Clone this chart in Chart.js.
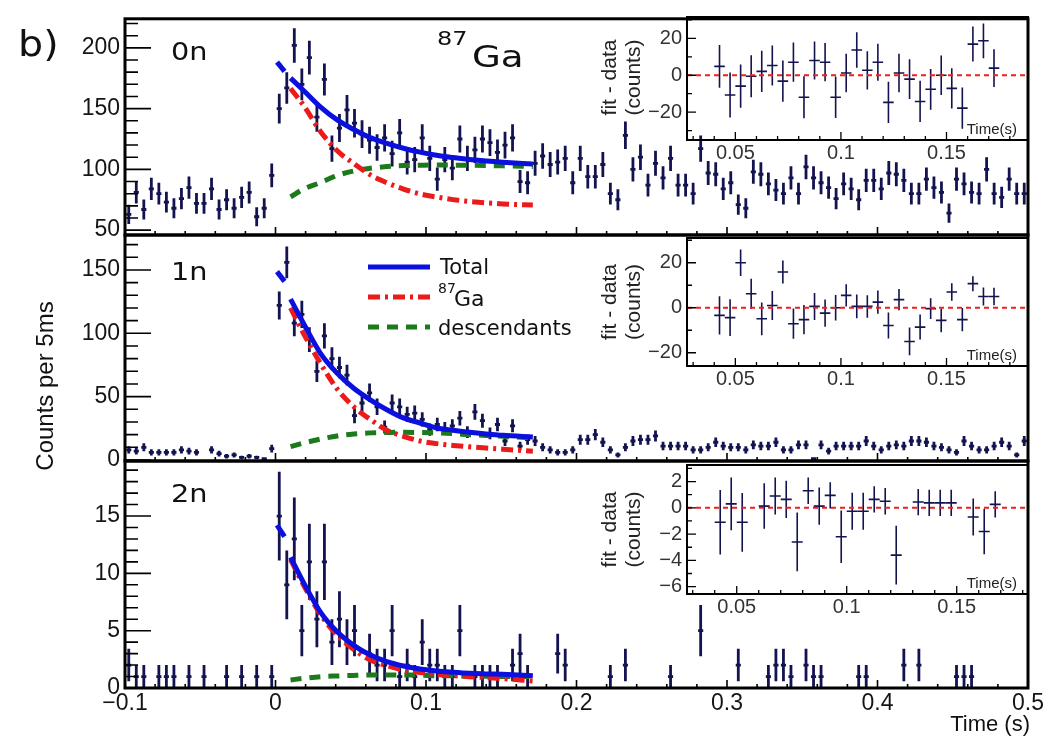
<!DOCTYPE html>
<html>
<head>
<meta charset="utf-8">
<script src="https://cdn.jsdelivr.net/npm/chart.js@4.4.1/dist/chart.umd.min.js"></script>
<style>
  html, body { margin: 0; padding: 0; background: #fff; }
  #wrap { position: relative; width: 1049px; height: 738px; overflow: hidden; background: #fff; }
  #wrap canvas { position: absolute; left: 0; top: 0; }
</style>
</head>
<body>
<div id="wrap">
  <canvas id="p0" width="1049" height="738"></canvas>
  <canvas id="p1" width="1049" height="738"></canvas>
  <canvas id="p2" width="1049" height="738"></canvas>
  <canvas id="r0" width="1049" height="738"></canvas>
  <canvas id="r1" width="1049" height="738"></canvas>
  <canvas id="r2" width="1049" height="738"></canvas>
</div>
<script>
// Histogram binning: 5 ms bins from -0.1 s to 0.5 s
const binStart = -0.1;
const binWidth = 0.005;

// Counts per 5 ms bin, 0n gate
const counts0n = [
  63, 81, 67, 84, 80, 73, 68, 76, 85, 72,
  72, 84, 67, 75, 68, 77, 81, 61, 68, 95,
  150, 167, 202, 170, 192, 143, 174, 117, 134, 149,
  138, 129, 124, 118, 126, 113, 130, 106, 108, 126,
  109, 92, 108, 101, 125, 109, 116, 125, 122, 114,
  120, 126, 90, 89, 105, 111, 104, 106, 109, 89,
  109, 94, 94, 104, 80, 75, 128, 100, 110, 87,
  105, 93, 109, 87, 87, 80, 117, 97, 96, 84,
  89, 71, 68, 98, 96, 88, 83, 80, 93, 80,
  102, 93, 89, 85, 76, 88, 84, 75, 91, 91,
  84, 97, 96, 91, 80, 80, 92, 85, 81, 64,
  92, 88, 81, 80, 100, 80, 77, 92, 80, 80
];

// Counts per 5 ms bin, 1n gate
const counts1n = [
  8, 7, 10, 6, 6, 6, 6, 8, 7, 6,
  0, 8, 5, 3, 4, 2, 3, 2, 1, 9,
  122, 156, 108, 115, 95, 70, 98, 80, 73, 67,
  35, 45, 53, 42, 26, 45, 42, 36, 37, 32,
  24, 28, 25, 27, 33, 22, 38, 31, 21, 28,
  15, 27, 11, 16, 15, 10, 8, 6, 6, 8,
  16, 16, 20, 14, 8, 4, 10, 15, 16, 16,
  19, 11, 11, 11, 11, 8, 8, 10, 14, 11,
  10, 10, 8, 12, 11, 11, 14, 8, 8, 12,
  12, 1, 12, 7, 11, 11, 11, 11, 15, 11,
  8, 11, 12, 11, 15, 15, 14, 11, 10, 8,
  6, 15, 11, 8, 8, 11, 14, 11, 4, 15
];

// Counts per 5 ms bin, 2n gate
const counts2n = [
  2, 1, 1, 0, 1, 1, 1, 0, 1, 0,
  1, 0, 0, 1, 0, 1, 0, 1, 0, 1,
  15, 9, 13, 5, 11, 6, 11, 4, 6, 4,
  5, 0, 3, 2, 2, 5, 1, 2, 1, 4,
  2, 2, 1, 1, 5, 0, 1, 1, 1, 1,
  0, 2, 3, 1, 0, 0, 0, 3, 2, 0,
  0, 0, 0, 0, 1, 0, 2, 0, 0, 0,
  0, 0, 1, 0, 0, 0, 5, 0, 0, 0,
  0, 2, 0, 0, 0, 1, 2, 2, 1, 0,
  2, 1, 1, 0, 0, 0, 0, 1, 1, 0,
  0, 0, 0, 2, 0, 2, 0, 0, 0, 0,
  1, 1, 1, 0, 0, 0, 0, 0, 0, 0
];

// Fit curves sampled over the fit window (s)
const fitTime = [0.010, 0.019, 0.030, 0.041, 0.052, 0.063, 0.074, 0.085, 0.096, 0.107, 0.118, 0.129, 0.140, 0.151, 0.171];
const total0n = [175.1, 164.5, 151.3, 140.7, 132.8, 126.1, 121.4, 117.4, 114.2, 111.6, 109.7, 108.1, 106.8, 105.8, 104.4];
const ga0n    = [166.5, 152.0, 131.0, 115.3, 104.8, 95.5, 89.0, 83.8, 79.8, 77.2, 75.1, 73.6, 72.4, 71.6, 70.6];
const desc0n  = [77.4, 84.0, 89.2, 95.0, 98.7, 101.0, 102.3, 103.1, 103.4, 103.6, 103.5, 103.4, 103.2, 102.9, 102.3];
const total1n = [127.0, 107.0, 84.0, 68.4, 56.6, 47.5, 39.7, 33.2, 29.2, 25.3, 23.5, 21.9, 20.6, 19.5, 18.2];
const ga1n    = [120.0, 99.0, 76.0, 56.0, 42.0, 32.0, 23.5, 18.7, 15.0, 12.9, 11.5, 10.4, 9.4, 8.5, 6.9];
const desc1n  = [10.5, 13.5, 16.5, 19.0, 20.5, 21.4, 21.7, 21.9, 21.7, 21.4, 20.8, 20.0, 19.4, 18.7, 17.4];
const total2n = [11.4, 9.1, 6.6, 4.9, 3.72, 2.87, 2.3, 1.92, 1.66, 1.48, 1.37, 1.28, 1.23, 1.19, 1.07];
const ga2n    = [11.2, 8.9, 6.4, 4.6, 3.35, 2.45, 1.95, 1.57, 1.35, 1.19, 1.08, 0.99, 0.90, 0.82, 0.61];
const desc2n  = [0.70, 0.85, 0.99, 1.05, 1.10, 1.13, 1.13, 1.13, 1.12, 1.07, 1.06, 1.05, 1.03, 1.01, 0.99];

// Total fit drawn before the fit window
const extTime = [0.001, 0.006];
const ext0n = [188.3, 180.6];
const ext1n = [148.7, 141.0];
const ext2n = [14.2, 13.2];

// Residuals (fit - data) inside the fit window
const resTime = [0.0425, 0.0475, 0.0525, 0.0575, 0.0625, 0.0675, 0.0725, 0.0775, 0.0825,
                 0.0875, 0.0925, 0.0975, 0.1025, 0.1075, 0.1125, 0.1175, 0.1225, 0.1275,
                 0.1325, 0.1375, 0.1425, 0.1475, 0.1525, 0.1575, 0.1625, 0.1675, 0.1725];
const res0n = [4.8, -10.7, -5.9, -0.5, 2.1, 5.3, -3.2, 7.1, -11.9, 8.0, 7.1, -11.9, 1.2, 13.7,
               2.7, 7.1, -14.7, 1.2, -2.1, -14.2, -7.6, 0.0, -7.1, -17.8, 16.9, 18.7, 3.9];
const res1n = [-3.4, -4.4, 20.0, 6.2, -4.9, 1.0, 15.9, -7.1, -5.3, 0.6, -2.4, 0.0, 5.5, 0.6,
               0.6, 2.5, -7.9, 3.6, -15.0, -8.6, -0.4, -5.6, 7.0, -5.3, 10.7, 5.0, 5.0];
const res2n = [-1.1, 0.3, -1.1, null, 0.13, 0.9, 0.64, -2.6, 1.3, 0.13, 0.95, -2.2, -0.26, -0.26,
               0.64, 0.5, -3.6, null, 0.44, 0.38, 0.38, 0.38, null, -0.7, -1.8, 0.26, null];

// Axis tick values
const timeTicksMain = [-0.1, 0, 0.1, 0.2, 0.3, 0.4, 0.5];
const timeTicksInset = [0.05, 0.1, 0.15];

const BLUE = '#0b10de';
const RED = '#ec1b1b';
const GREEN = '#1c7a1c';
const NAVY = '#13134f';
const DASH_GA = [12, 5, 3, 5];
const DASH_DESC = [11, 8];

const binCenter = i => binStart + binWidth * (i + 0.5);
const binOf = t => Math.floor((t - binStart) / binWidth);
const signed = s => s.replace('-', '\u2212');
const fmt = v => signed(String(Math.round(v * 1000) / 1000));

// Panel decorations: error bars, frame, inward ticks, free text
const deco = {
  id: 'deco',
  beforeDatasetsDraw(chart) {
    const { ctx, chartArea: a, scales: { x: xs, y: ys } } = chart;
    ctx.save();
    ctx.beginPath();
    ctx.rect(a.left, a.top, a.right - a.left, a.bottom - a.top);
    ctx.clip();
    chart.data.datasets.forEach(ds => {
      if (!ds.errorBars) return;
      const eb = ds.errorBars;
      ctx.strokeStyle = eb.color;
      ctx.lineWidth = eb.lineWidth;
      ctx.lineCap = 'butt';
      ds.data.forEach(p => {
        if (p.y === null) return;
        const px = xs.getPixelForValue(p.x);
        const py = ys.getPixelForValue(p.y);
        ctx.beginPath();
        ctx.moveTo(px, ys.getPixelForValue(p.y - p.e));
        ctx.lineTo(px, ys.getPixelForValue(p.y + p.e));
        ctx.moveTo(xs.getPixelForValue(p.x - eb.halfWidth), py);
        ctx.lineTo(xs.getPixelForValue(p.x + eb.halfWidth), py);
        ctx.stroke();
      });
    });
    ctx.restore();
  },
  afterDraw(chart, args, o) {
    const { ctx, chartArea: a, scales: { x: xs, y: ys } } = chart;
    ctx.save();
    ctx.strokeStyle = '#000';
    const along = (min, max, step) => {
      const out = [];
      for (let k = Math.ceil(min / step - 1e-9); k * step <= max + 1e-9; k++) out.push(k * step);
      return out;
    };
    const isMajor = (v, m) => Math.abs(v / m - Math.round(v / m)) < 1e-6;
    ctx.lineWidth = o.tickWidth;
    ctx.beginPath();
    along(ys.min, ys.max, o.yMinor).forEach(v => {
      const py = ys.getPixelForValue(v);
      const len = isMajor(v, o.yMajor) ? o.yMajLen : o.yMinLen;
      ctx.moveTo(a.left, py);
      ctx.lineTo(a.left + len, py);
    });
    along(xs.min, xs.max, o.xMinor).forEach(v => {
      const px = xs.getPixelForValue(v);
      const len = isMajor(v, o.xMajor) ? o.xMajLen : o.xMinLen;
      ctx.moveTo(px, a.bottom);
      ctx.lineTo(px, a.bottom - len);
    });
    ctx.stroke();
    ctx.lineWidth = o.frameWidth;
    ctx.strokeRect(a.left, a.top, a.right - a.left, a.bottom - a.top);

    (o.legend || []).forEach(it => {
      ctx.save();
      ctx.strokeStyle = it.color;
      ctx.lineWidth = 5;
      ctx.setLineDash(it.dash);
      ctx.beginPath();
      ctx.moveTo(it.x0, it.y);
      ctx.lineTo(it.x1, it.y);
      ctx.stroke();
      ctx.restore();
    });

    (o.texts || []).forEach(t => {
      ctx.save();
      ctx.font = t.font;
      ctx.fillStyle = t.color || '#111';
      ctx.textAlign = t.align || 'left';
      ctx.textBaseline = t.base || 'alphabetic';
      ctx.translate(t.x, t.y);
      if (t.rot) ctx.rotate(t.rot);
      if (t.sx) ctx.scale(t.sx, 1);
      ctx.fillText(t.text, 0, 0);
      ctx.restore();
    });
    ctx.restore();
  }
};
Chart.register(deco);

const TICK_FONT = { family: '"Liberation Sans", Arial, sans-serif', size: 23 };
const INSET_FONT = { family: '"Liberation Sans", Arial, sans-serif', size: 20 };
const LABEL_FONT = '"DejaVu Sans", Verdana, sans-serif';

function curve(times, values) {
  return times.map((t, i) => ({ x: t, y: values[i] }));
}

function mainPanel(id, p) {
  const pts = [];
  p.counts.forEach((c, i) => {
    if (c > 0) pts.push({ x: binCenter(i), y: c, e: Math.sqrt(c) });
  });
  const line = (label, data, color, dash, order) => ({
    label, data, showLine: true, borderColor: color, borderWidth: 5, borderDash: dash,
    borderCapStyle: 'butt', pointRadius: 0, cubicInterpolationMode: 'monotone', order, fill: false
  });
  const W = 1049, H = 738, yW = 60;
  new Chart(document.getElementById(id), {
    type: 'scatter',
    data: {
      datasets: [
        line('Total', curve(fitTime, p.total), BLUE, [], 0),
        line('Total (extrapolated)', curve(extTime, p.ext), BLUE, [], 0),
        line('87Ga', curve(fitTime, p.ga), RED, DASH_GA, 1),
        line('descendants', curve(fitTime, p.desc), GREEN, DASH_DESC, 2),
        { label: 'data', data: pts, showLine: false, pointRadius: 0, order: 3,
          errorBars: { color: NAVY, lineWidth: 2.8, halfWidth: 0.0017 } }
      ]
    },
    options: {
      responsive: false, animation: false, events: [],
      layout: { autoPadding: false, padding: { left: 125 - yW, right: W - 1028, top: p.top, bottom: H - p.bottom - p.xH } },
      plugins: {
        legend: { display: false }, tooltip: { enabled: false },
        deco: {
          tickWidth: 1.6, frameWidth: 3,
          xMajor: 0.1, xMinor: 0.02, xMajLen: 8, xMinLen: 4,
          yMajor: p.yMajor, yMinor: p.yMinor, yMajLen: 26, yMinLen: 13,
          legend: p.legend, texts: p.texts
        }
      },
      scales: {
        x: {
          type: 'linear', min: -0.1, max: 0.5,
          grid: { display: false, drawTicks: false }, border: { display: false },
          afterBuildTicks: s => { s.ticks = timeTicksMain.map(v => ({ value: v })); },
          ticks: { display: p.showX, font: TICK_FONT, color: '#151515', padding: 2, maxRotation: 0, autoSkip: false, callback: v => fmt(v) },
          afterFit: s => { s.height = p.xH; }
        },
        y: {
          type: 'linear', min: p.yMin, max: p.yMax,
          grid: { display: false, drawTicks: false }, border: { display: false },
          ticks: { stepSize: p.yMajor, includeBounds: false, font: TICK_FONT, color: '#151515', padding: 5, autoSkip: false, callback: v => fmt(v) },
          afterFit: s => { s.width = yW; }
        }
      }
    }
  });
}

function insetPanel(id, p) {
  const pts = [];
  p.res.forEach((r, k) => {
    if (r === null) return;
    pts.push({ x: resTime[k], y: r, e: Math.sqrt(p.counts[binOf(resTime[k])]) });
  });
  const W = 1049, H = 738, yW = 40, xH = 25;
  new Chart(document.getElementById(id), {
    type: 'scatter',
    data: {
      datasets: [
        { label: 'zero', data: [{ x: p.xMin, y: 0 }, { x: p.xMax, y: 0 }], showLine: true,
          borderColor: '#f01e1e', borderWidth: 2, borderDash: [5, 4], pointRadius: 0, order: 0 },
        { label: 'residuals', data: pts, showLine: false, pointRadius: 0, order: 1,
          errorBars: { color: NAVY, lineWidth: 1.6, halfWidth: 0.0025 } }
      ]
    },
    options: {
      responsive: false, animation: false, events: [],
      layout: { autoPadding: false, padding: { left: 687 - yW, right: W - 1028, top: p.top, bottom: H - p.bottom - xH } },
      plugins: {
        legend: { display: false }, tooltip: { enabled: false },
        deco: {
          tickWidth: 1.3, frameWidth: 2,
          xMajor: 0.05, xMinor: 0.01, xMajLen: 8, xMinLen: 4,
          yMajor: p.yMajor, yMinor: p.yMinor, yMajLen: 9, yMinLen: 5,
          texts: [
            { text: 'fit - data', x: 610, y: (p.top + p.bottom) / 2, rot: -Math.PI / 2, align: 'center', base: 'middle',
              font: '21px "Liberation Sans", Arial, sans-serif', color: '#222' },
            { text: '(counts)', x: 634, y: (p.top + p.bottom) / 2, rot: -Math.PI / 2, align: 'center', base: 'middle',
              font: '21px "Liberation Sans", Arial, sans-serif', color: '#222' },
            { text: 'Time(s)', x: 1017, y: p.bottom - 6, align: 'right',
              font: '15px "Liberation Sans", Arial, sans-serif', color: '#222' }
          ]
        }
      },
      scales: {
        x: {
          type: 'linear', min: p.xMin, max: p.xMax,
          grid: { display: false, drawTicks: false }, border: { display: false },
          afterBuildTicks: s => { s.ticks = timeTicksInset.map(v => ({ value: v })); },
          ticks: { font: INSET_FONT, color: '#333', padding: 1, maxRotation: 0, autoSkip: false, callback: v => fmt(v) },
          afterFit: s => { s.height = xH; }
        },
        y: {
          type: 'linear', min: p.yMin, max: p.yMax,
          grid: { display: false, drawTicks: false }, border: { display: false },
          ticks: { stepSize: p.yMajor, includeBounds: false, font: INSET_FONT, color: '#333', padding: 5, autoSkip: false, callback: v => fmt(v) },
          afterFit: s => { s.width = yW; }
        }
      }
    }
  });
}

const gateLabel = (text, y) => ({ text, x: 171, y, font: '25px ' + LABEL_FONT, color: '#111', sx: 1.15 });

mainPanel('p0', {
  counts: counts0n, total: total0n, ga: ga0n, desc: desc0n, ext: ext0n,
  top: 12, bottom: 235, xH: 0, showX: false,
  yMin: 46, yMax: 223.9, yMajor: 50, yMinor: 10,
  texts: [
    { text: 'b)', x: 18, y: 56, font: '36px ' + LABEL_FONT, color: '#111', sx: 1.1 },
    gateLabel('0n', 60),
    { text: '87', x: 437, y: 45, font: '20px ' + LABEL_FONT, color: '#111', sx: 1.2 },
    { text: 'Ga', x: 472, y: 67, font: '31px ' + LABEL_FONT, color: '#111', sx: 1.2 }
  ]
});

mainPanel('p1', {
  counts: counts1n, total: total1n, ga: ga1n, desc: desc1n, ext: ext1n,
  top: 235, bottom: 461, xH: 0, showX: false,
  yMin: -0.8, yMax: 177.6, yMajor: 50, yMinor: 10,
  legend: [
    { x0: 368, x1: 430, y: 267, color: BLUE, dash: [] },
    { x0: 368, x1: 430, y: 297, color: RED, dash: DASH_GA },
    { x0: 368, x1: 430, y: 327, color: GREEN, dash: DASH_DESC }
  ],
  texts: [
    gateLabel('1n', 280),
    { text: 'Counts per 5ms', x: 46, y: 386, rot: -Math.PI / 2, align: 'center', base: 'middle',
      font: '24px "Liberation Sans", Arial, sans-serif', color: '#111' },
    { text: 'Total', x: 440, y: 274, font: '21px ' + LABEL_FONT, color: '#111' },
    { text: '87', x: 438, y: 293, font: '14px ' + LABEL_FONT, color: '#111' },
    { text: 'Ga', x: 454, y: 306, font: '22px ' + LABEL_FONT, color: '#111' },
    { text: 'descendants', x: 438, y: 335, font: '21px ' + LABEL_FONT, color: '#111' }
  ]
});

mainPanel('p2', {
  counts: counts2n, total: total2n, ga: ga2n, desc: desc2n, ext: ext2n,
  top: 461, bottom: 688, xH: 45, showX: true,
  yMin: 0, yMax: 19.8, yMajor: 5, yMinor: 1,
  texts: [
    gateLabel('2n', 502),
    { text: 'Time (s)', x: 1030, y: 731, align: 'right',
      font: '22px "Liberation Sans", Arial, sans-serif', color: '#111' }
  ]
});

insetPanel('r0', { res: res0n, counts: counts0n, top: 15, bottom: 140, xMin: 0.0271, xMax: 0.1886, yMin: -35.1, yMax: 31.6, yMajor: 20, yMinor: 10 });
insetPanel('r1', { res: res1n, counts: counts1n, top: 238, bottom: 366, xMin: 0.0271, xMax: 0.1886, yMin: -25.9, yMax: 31.0, yMajor: 20, yMinor: 10 });
insetPanel('r2', { res: res2n, counts: counts2n, top: 465, bottom: 594, xMin: 0.0274, xMax: 0.1824, yMin: -6.56, yMax: 3.26, yMajor: 2, yMinor: 1 });
</script>
</body>
</html>
